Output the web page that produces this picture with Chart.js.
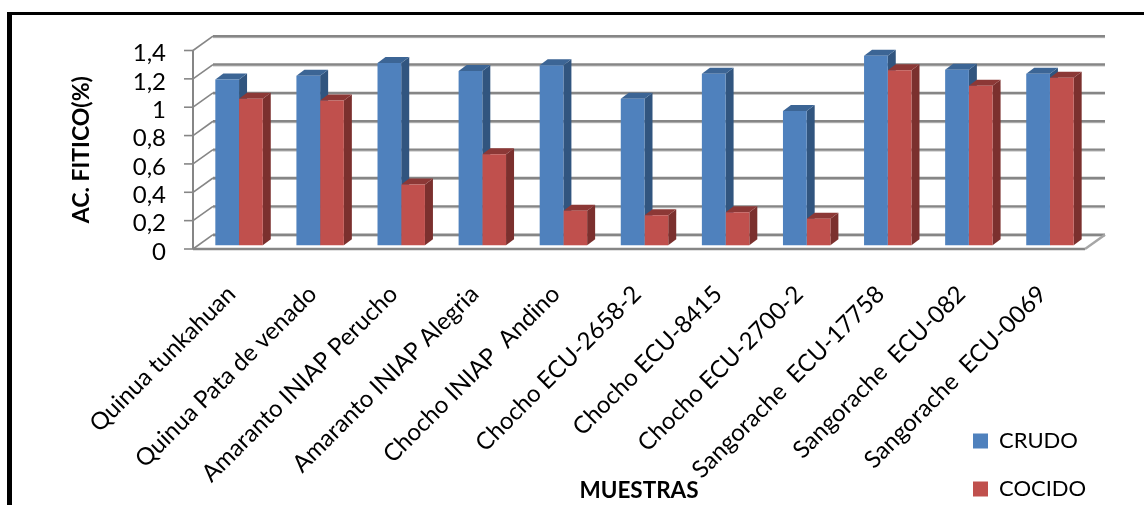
<!DOCTYPE html>
<html lang="es">
<head>
  <meta charset="UTF-8">
  <title>Acido fitico</title>
  <script src="https://cdn.jsdelivr.net/npm/chart.js"></script>
  <style>
    body { margin: 0; background: #fff; }
    #wrap { position: relative; width: 1144px; height: 505px; overflow: hidden; }
    #frame { position: absolute; left: 7px; top: 12px; right: -10px; bottom: -10px; border-left: 5px solid #000; border-top: 3px solid #000; }
    #chart { position: absolute; left: 0; top: 0; }
  </style>
</head>
<body>
  <div id="wrap">
    <div id="frame"></div>
    <canvas id="chart" width="1144" height="505"></canvas>
  </div>
  <script>
    const categories = [
      'Quinua tunkahuan', 'Quinua Pata de venado', 'Amaranto INIAP Perucho', 'Amaranto INIAP Alegria',
      'Chocho INIAP  Andino', 'Chocho ECU-2658-2', 'Chocho ECU-8415', 'Chocho ECU-2700-2',
      'Sangorache  ECU-17758', 'Sangorache  ECU-082', 'Sangorache  ECU-0069'
    ];
    const crudo = [1.17, 1.196, 1.285, 1.229, 1.269, 1.034, 1.21, 0.947, 1.337, 1.239, 1.21];
    const cocido = [1.034, 1.022, 0.428, 0.642, 0.244, 0.212, 0.233, 0.188, 1.234, 1.126, 1.182];
    const yTicks = [0, 0.2, 0.4, 0.6, 0.8, 1, 1.2, 1.4];

    const FONT = 'Lato, Carlito, Calibri, sans-serif';
    const wallX = 20, wallY = 14.3;   // depth of the fake 3D box
    const barShiftX = 5.5, barShiftY = -3.7;   // bars stand in the middle of the floor
    const barDepthX = 8, barDepthY = 6;
    const faces = [
      { side: '#31557f', top: '#3c6595' },
      { side: '#7b302e', top: '#8c3836' }
    ];

    // back wall, left wall and floor, then the side and top of every bar
    const box3d = {
      id: 'box3d',
      afterLayout(chart) {
        // legend sits under the plot, bottom right
        chart.legend.left = 947;
        chart.legend.top = 404;
        chart.legend.right = 1144;
        chart.legend.bottom = 700;
      },
      beforeDatasetsDraw(chart) {
        const ctx = chart.ctx;
        const y = chart.scales.y;
        const { left, right } = chart.chartArea;
        const line = (x1, y1, x2, y2, color, w) => {
          ctx.strokeStyle = color;
          ctx.lineWidth = w;
          ctx.beginPath();
          ctx.moveTo(x1, y1);
          ctx.lineTo(x2, y2);
          ctx.stroke();
        };
        ctx.save();
        yTicks.forEach(v => {
          const py = y.getPixelForValue(v);
          line(left + wallX, py - wallY + 1.5, right + wallX, py - wallY + 1.5, '#c4c4c4', 1);
          line(left + wallX, py - wallY, right + wallX, py - wallY, '#868686', 2.4);
          line(left, py, left + wallX, py - wallY, '#868686', 1.6);
          line(left - 9, py, left, py, '#868686', 1.6);
        });
        const y0 = y.getPixelForValue(0);
        const y1 = y.getPixelForValue(yTicks[yTicks.length - 1]);
        line(left, y1, left, y0, '#868686', 2);
        line(left, y0, right, y0, '#868686', 2.4);
        line(right, y0, right + wallX, y0 - wallY, '#a6a6a6', 2.4);
        ctx.translate(barShiftX, barShiftY);
        chart.data.datasets.forEach((ds, d) => {
          chart.getDatasetMeta(d).data.forEach(bar => {
            const l = bar.x - bar.width / 2, r = bar.x + bar.width / 2;
            ctx.fillStyle = faces[d].side;
            ctx.beginPath();
            ctx.moveTo(r, bar.y);
            ctx.lineTo(r + barDepthX, bar.y - barDepthY);
            ctx.lineTo(r + barDepthX, bar.base - barDepthY);
            ctx.lineTo(r, bar.base);
            ctx.closePath();
            ctx.fill();
            ctx.fillStyle = faces[d].top;
            ctx.beginPath();
            ctx.moveTo(l, bar.y);
            ctx.lineTo(l + barDepthX, bar.y - barDepthY);
            ctx.lineTo(r + barDepthX, bar.y - barDepthY);
            ctx.lineTo(r, bar.y);
            ctx.closePath();
            ctx.fill();
          });
        });
      },
      afterDatasetsDraw(chart) {
        chart.ctx.restore();
      }
    };

    new Chart(document.getElementById('chart'), {
      type: 'bar',
      data: {
        labels: categories,
        datasets: [
          { label: 'CRUDO', data: crudo, backgroundColor: '#4f81bd', clip: false },
          { label: 'COCIDO', data: cocido, backgroundColor: '#c0504d', clip: false }
        ]
      },
      plugins: [box3d],
      options: {
        responsive: false,
        animation: false,
        barPercentage: 1,
        categoryPercentage: 0.585,
        layout: { padding: { top: 50.5, right: 59, left: 0, bottom: 0 } },
        plugins: {
          tooltip: { enabled: false },
          legend: {
            position: 'chartArea',
            align: 'start',
            labels: {
              boxWidth: 15, boxHeight: 15, padding: 26,
              color: '#000',
              font: { family: FONT, size: 22 }
            }
          }
        },
        scales: {
          x: {
            grid: { display: false },
            border: { display: false },
            afterFit(scale) { scale.height = 256; },
            ticks: {
              autoSkip: false, minRotation: 45, maxRotation: 45, padding: 23, labelOffset: -2,
              color: '#000',
              font: { family: FONT, size: 24 }
            },
            title: {
              display: true, text: 'MUESTRAS', color: '#000',
              padding: { top: 0, bottom: 1 },
              font: { family: FONT, size: 22.5, weight: 'bold' }
            }
          },
          y: {
            min: 0,
            max: 1.4,
            grid: { display: false },
            border: { display: false },
            afterFit(scale) { scale.width = 193; },
            afterBuildTicks(scale) { scale.ticks = yTicks.map(v => ({ value: v })); },
            ticks: {
              autoSkip: false,
              padding: 19,
              labelOffset: 3,
              color: '#000',
              font: { family: FONT, size: 24 },
              callback: v => String(v).replace('.', ',')
            },
            title: {
              display: true, text: 'AC. FITICO(%)', color: '#000',
              padding: { top: 68, bottom: 0 },
              font: { family: FONT, size: 23, weight: 'bold' }
            }
          }
        }
      }
    });
  </script>
</body>
</html>
